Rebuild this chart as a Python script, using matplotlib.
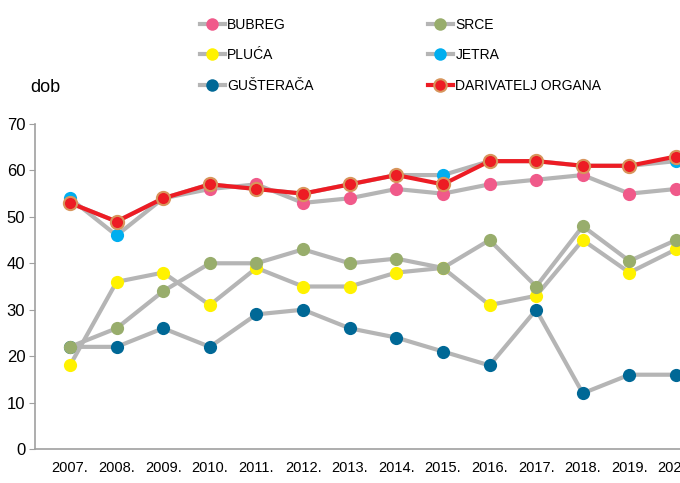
import matplotlib.pyplot as plt
from matplotlib.lines import Line2D

plt.rcParams['font.family'] = ['Liberation Sans', 'DejaVu Sans']

godine = [2007, 2008, 2009, 2010, 2011, 2012, 2013, 2014, 2015, 2016, 2017, 2018, 2019, 2020]
oznake = [str(g) + '.' for g in godine]

bubreg = [53, 49, 54, 56, 57, 53, 54, 56, 55, 57, 58, 59, 55, 56]
srce = [22, 26, 34, 40, 40, 43, 40, 41, 39, 45, 35, 48, 40.5, 45]
pluca = [18, 36, 38, 31, 39, 35, 35, 38, 39, 31, 33, 45, 38, 43]
jetra = [54, 46, 54, 57, 56, 55, 57, 59, 59, 62, 62, 61, 61, 62]
gusteraca = [22, 22, 26, 22, 29, 30, 26, 24, 21, 18, 30, 12, 16, 16]
darivatelji = [53, 49, 54, 57, 56, 55, 57, 59, 57, 62, 62, 61, 61, 63]

siva = '#b5b5b5'
boje = {'BUBREG': '#f05a8a', 'SRCE': '#98ad6c', 'PLUĆA': '#fff200',
        'JETRA': '#00aeef', 'GUŠTERAČA': '#006896'}
serije = {'BUBREG': bubreg, 'SRCE': srce, 'PLUĆA': pluca,
          'JETRA': jetra, 'GUŠTERAČA': gusteraca}

fig = plt.figure(figsize=(6.8, 4.83), dpi=100)
ax = fig.add_axes([35 / 680, 34 / 483, 676 / 680, 325 / 483])

for ime in ['GUŠTERAČA', 'PLUĆA', 'SRCE', 'JETRA', 'BUBREG']:
    ax.plot(godine, serije[ime], color=siva, lw=3, marker='o', ms=9.5,
            mfc=boje[ime], mec='none', solid_capstyle='round', zorder=2)
ax.plot(godine, darivatelji, color='#ed1c24', lw=3, marker='o', ms=9.5,
        mfc='#ed1c24', mec='#d8955c', mew=1.5, zorder=3)

ax.set_xlim(2006.25, 2020.75)
ax.set_ylim(0, 70)
ax.set_yticks(range(0, 71, 10))
ax.set_xticks(godine)
ax.set_xticklabels(oznake)
for s in ['top', 'right']:
    ax.spines[s].set_visible(False)
for s in ['left', 'bottom']:
    ax.spines[s].set_color('#a0a0a0')
    ax.spines[s].set_linewidth(1.2)
ax.tick_params(axis='y', length=4, color='#a0a0a0', labelsize=12, pad=3)
ax.tick_params(axis='x', length=0, labelsize=10.5, pad=9)

fig.text(30 / 680, 1 - 87 / 483, 'dob', fontsize=13, va='center', ha='left')


def ručka(boja, linija=siva, rub='none'):
    return Line2D([], [], color=linija, lw=3, marker='o', ms=9,
                  mfc=boja, mec=rub, mew=1.5)


rucke = [ručka(boje['BUBREG']), ručka(boje['PLUĆA']), ručka(boje['GUŠTERAČA']),
         ručka(boje['SRCE']), ručka(boje['JETRA']),
         ručka('#ed1c24', '#ed1c24', '#d8955c')]
natpisi = ['BUBREG', 'PLUĆA', 'GUŠTERAČA', 'SRCE', 'JETRA', 'DARIVATELJ ORGANA']
fig.legend(rucke, natpisi, ncol=2, frameon=False, fontsize=10,
           loc='upper left', bbox_to_anchor=(194 / 680, 1 - 12 / 483),
           handlelength=1.8, handletextpad=0.2, columnspacing=8.2,
           labelspacing=1.2, borderaxespad=0)

fig.savefig('out.png', dpi=100)
